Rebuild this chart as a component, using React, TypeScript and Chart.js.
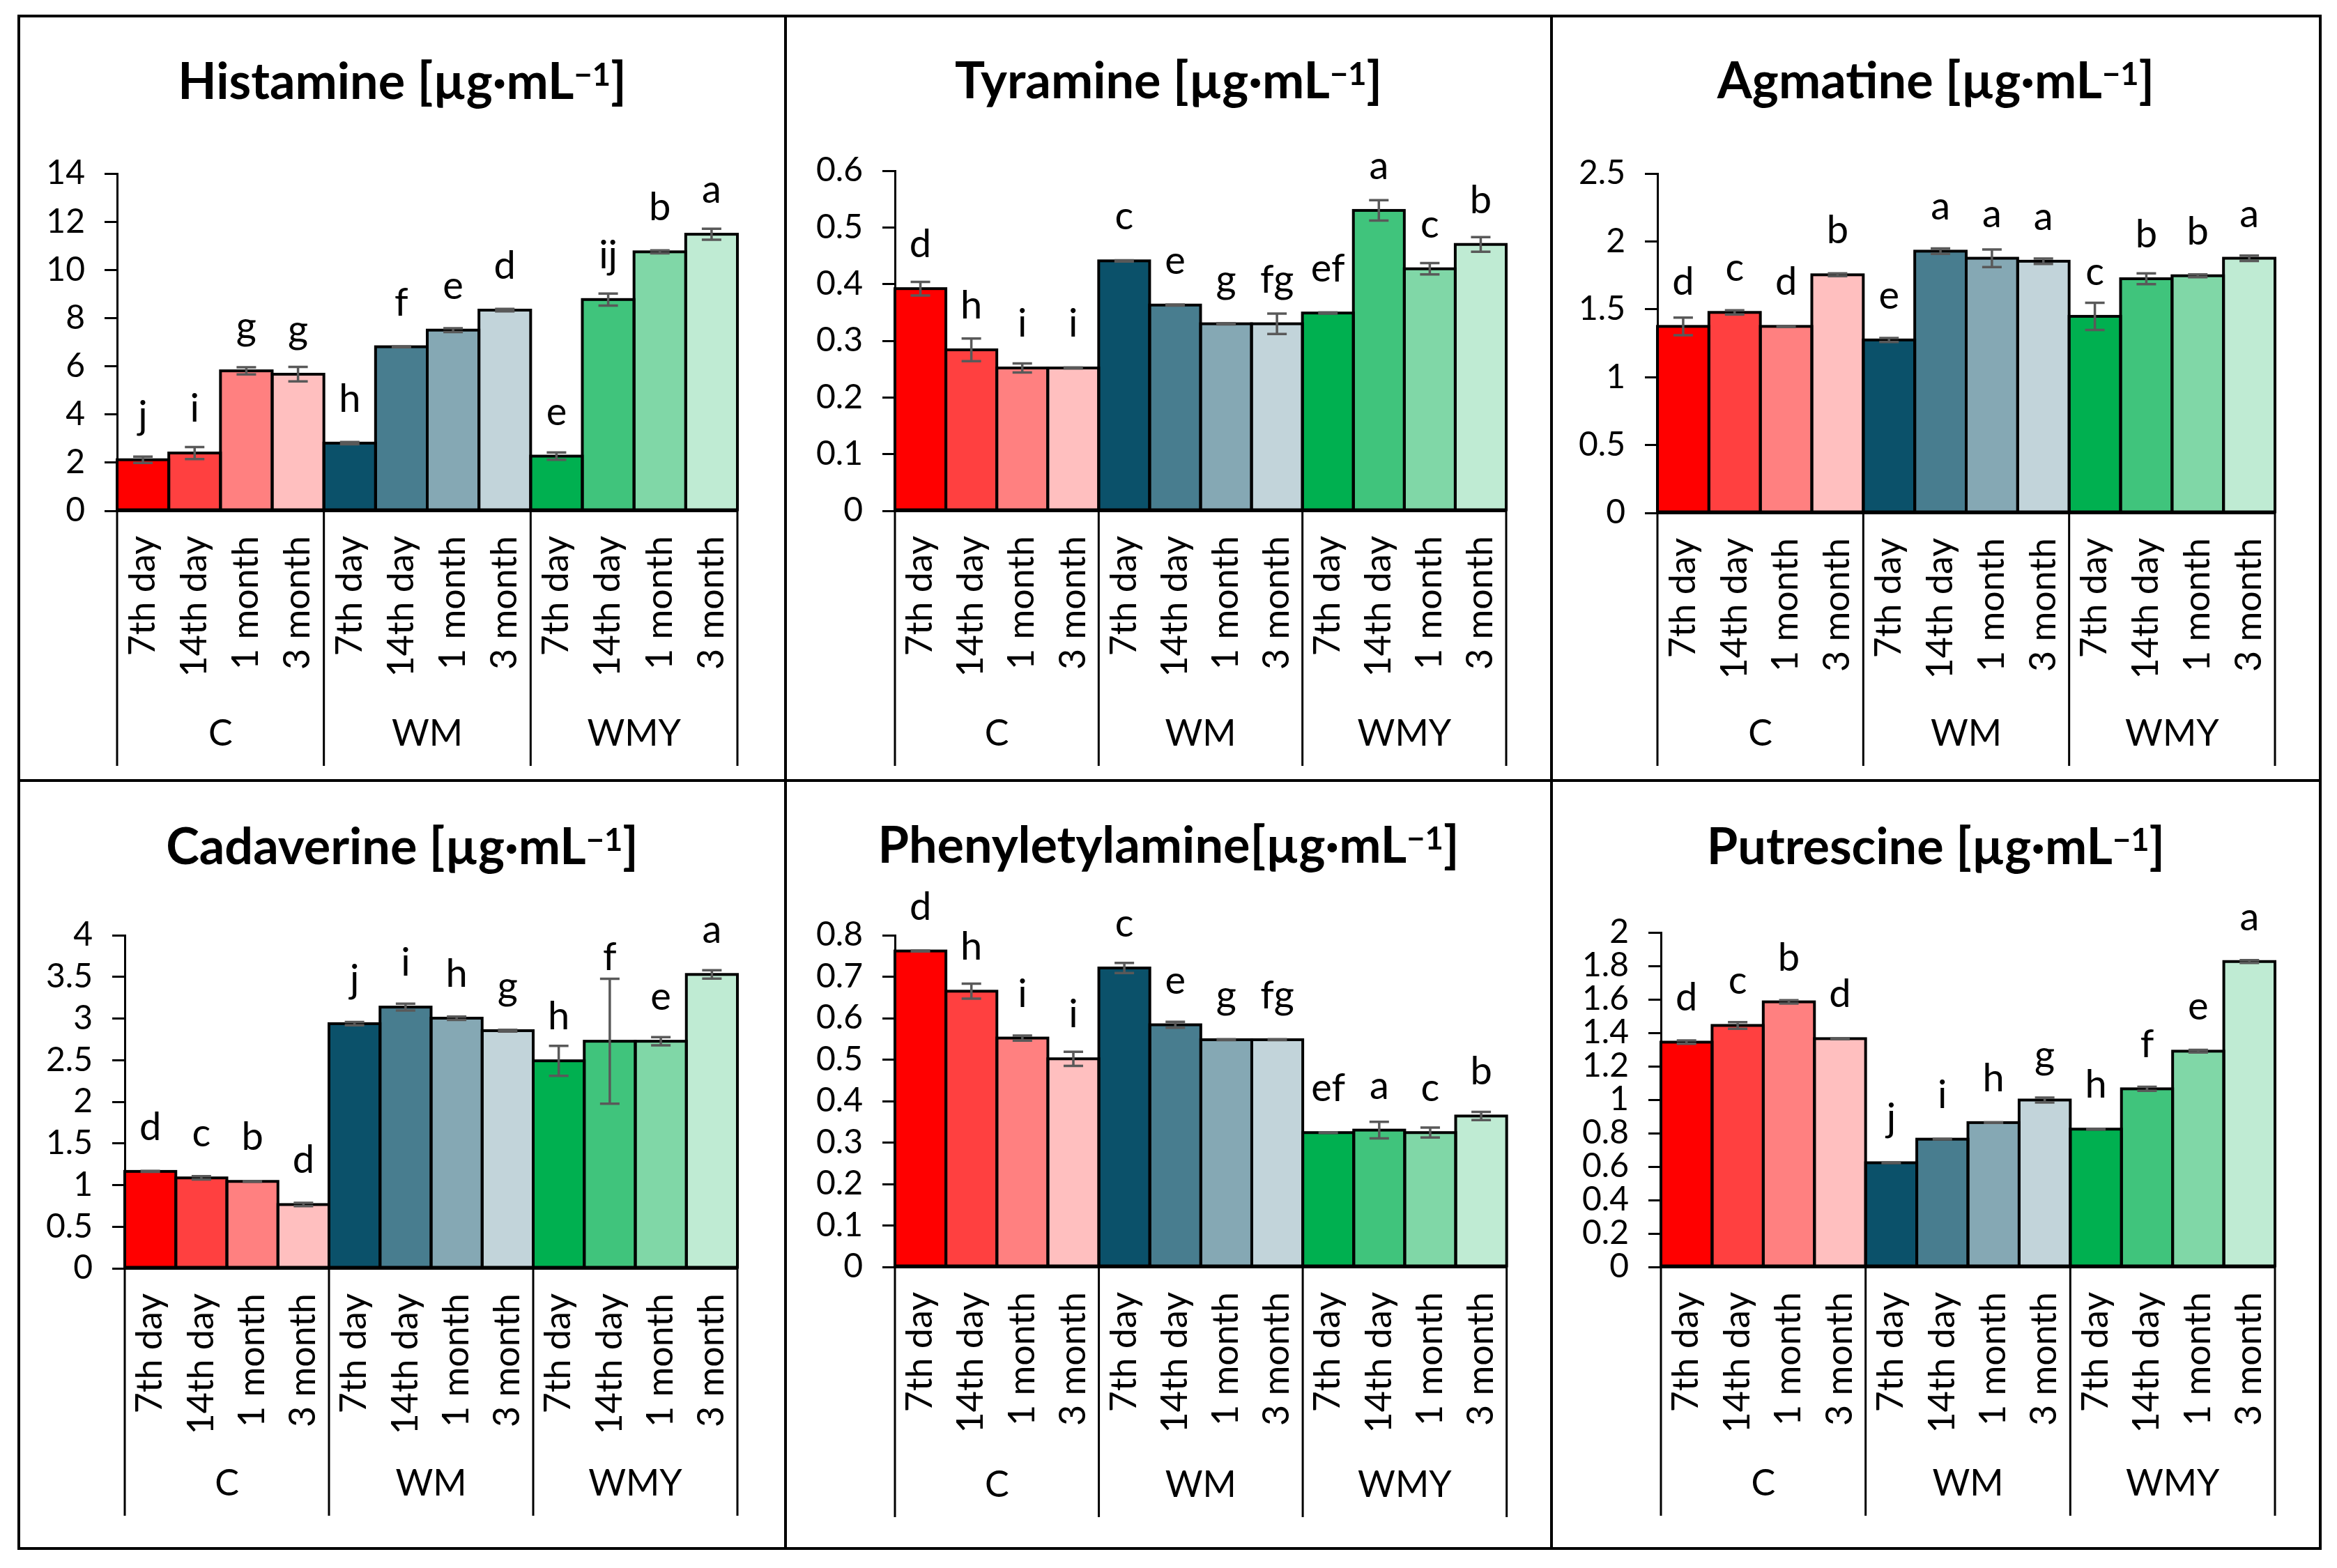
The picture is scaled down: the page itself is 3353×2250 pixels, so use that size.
import React, { useEffect, useRef } from "react";
import { Chart, registerables } from "chart.js";

Chart.register(...registerables);

// ---------- DATA ----------
const categories = [
  "7th day", "14th day", "1 month", "3 month",
  "7th day", "14th day", "1 month", "3 month",
  "7th day", "14th day", "1 month", "3 month",
];
const groups = ["C", "WM", "WMY"];

const barColors = [
  "#FF0000", "#FF4040", "#FF8080", "#FFBFBF",
  "#0B516A", "#487D8F", "#85A8B4", "#C2D4DA",
  "#00B050", "#40C47C", "#80D7A7", "#BFEBD3",
];

const histamineValues = [2.12, 2.40, 5.81, 5.67, 2.81, 6.81, 7.50, 8.33, 2.27, 8.77, 10.75, 11.48];
const histamineErrors = [0.13, 0.25, 0.15, 0.30, 0.05, 0.02, 0.08, 0.05, 0.15, 0.25, 0.06, 0.23];
const histamineLetters = ["j", "i", "g", "g", "h", "f", "e", "d", "e", "ij", "b", "a"];
const histamineAxis = [0, 14, 2];

const tyramineValues = [0.392, 0.284, 0.252, 0.252, 0.441, 0.363, 0.330, 0.330, 0.349, 0.530, 0.427, 0.470];
const tyramineErrors = [0.012, 0.020, 0.008, 0.001, 0.001, 0.001, 0.001, 0.018, 0.001, 0.018, 0.010, 0.013];
const tyramineLetters = ["d", "h", "i", "i", "c", "e", "g", "fg", "ef", "a", "c", "b"];
const tyramineAxis = [0, 0.6, 0.1];

const agmatineValues = [1.374, 1.477, 1.374, 1.754, 1.274, 1.928, 1.876, 1.854, 1.448, 1.725, 1.747, 1.876];
const agmatineErrors = [0.065, 0.015, 0.003, 0.010, 0.015, 0.020, 0.065, 0.020, 0.100, 0.040, 0.010, 0.020];
const agmatineLetters = ["d", "c", "d", "b", "e", "a", "a", "a", "c", "b", "b", "a"];
const agmatineAxis = [0, 2.5, 0.5];

const cadaverineValues = [1.164, 1.086, 1.044, 0.766, 2.938, 3.137, 3.004, 2.854, 2.492, 2.727, 2.727, 3.529];
const cadaverineErrors = [0.005, 0.020, 0.005, 0.020, 0.020, 0.040, 0.020, 0.010, 0.180, 0.750, 0.050, 0.050];
const cadaverineLetters = ["d", "c", "b", "d", "j", "i", "h", "g", "h", "f", "e", "a"];
const cadaverineAxis = [0, 4, 0.5];

const phenylValues = [0.762, 0.665, 0.552, 0.502, 0.721, 0.584, 0.548, 0.548, 0.324, 0.330, 0.324, 0.364];
const phenylErrors = [0.001, 0.018, 0.006, 0.017, 0.012, 0.007, 0.001, 0.001, 0.001, 0.020, 0.012, 0.010];
const phenylLetters = ["d", "h", "i", "i", "c", "e", "g", "fg", "ef", "a", "c", "b"];
const phenylAxis = [0, 0.8, 0.1];

const putrescineValues = [1.344, 1.444, 1.585, 1.365, 0.623, 0.764, 0.863, 0.998, 0.824, 1.065, 1.290, 1.826];
const putrescineErrors = [0.010, 0.020, 0.010, 0.002, 0.002, 0.002, 0.002, 0.015, 0.002, 0.012, 0.008, 0.008];
const putrescineLetters = ["d", "c", "b", "d", "j", "i", "h", "g", "h", "f", "e", "a"];
const putrescineAxis = [0, 2, 0.2];

// ---------- LAYOUT ----------
type PanelCfg = {
  title: string;
  gap: boolean;
  values: number[];
  errors: number[];
  letters: string[];
  axis: number[];
  box: number[]; // left, top, width, height
  yW: number;
  padR: number;
  padT: number;
  bottom: number;
  sep: number;
  titleTop: number;
};

const panels: PanelCfg[] = [
  { title: "Histamine", gap: true, values: histamineValues, errors: histamineErrors, letters: histamineLetters, axis: histamineAxis,
    box: [27, 23, 1100, 1097], yW: 141, padR: 69, padT: 226, bottom: 710, sep: 1076, titleTop: 55 },
  { title: "Tyramine", gap: true, values: tyramineValues, errors: tyramineErrors, letters: tyramineLetters, axis: tyramineAxis,
    box: [1127, 23, 1099, 1097], yW: 157, padR: 65, padT: 222, bottom: 710, sep: 1076, titleTop: 54 },
  { title: "Agmatine", gap: true, values: agmatineValues, errors: agmatineErrors, letters: agmatineLetters, axis: agmatineAxis,
    box: [2226, 23, 1103, 1097], yW: 152, padR: 65, padT: 226, bottom: 713, sep: 1076, titleTop: 54 },
  { title: "Cadaverine", gap: true, values: cadaverineValues, errors: cadaverineErrors, letters: cadaverineLetters, axis: cadaverineAxis,
    box: [27, 1120, 1100, 1102], yW: 152, padR: 69, padT: 222, bottom: 700, sep: 1055, titleTop: 56 },
  { title: "Phenyletylamine", gap: false, values: phenylValues, errors: phenylErrors, letters: phenylLetters, axis: phenylAxis,
    box: [1127, 1120, 1099, 1102], yW: 157, padR: 60, padT: 222, bottom: 698, sep: 1057, titleTop: 54 },
  { title: "Putrescine", gap: true, values: putrescineValues, errors: putrescineErrors, letters: putrescineLetters, axis: putrescineAxis,
    box: [2226, 1120, 1103, 1102], yW: 157, padR: 65, padT: 218, bottom: 698, sep: 1055, titleTop: 56 },
];

const FONT = "Lato";

const decorPlugin = {
  id: "decor",
  afterDatasetsDraw(chart: any) {
    const ctx = chart.ctx as CanvasRenderingContext2D;
    const meta = chart.getDatasetMeta(0);
    const ds = chart.data.datasets[0];
    const yS = chart.scales.y;
    const errs: number[] = ds.errors;
    const letters: string[] = ds.letters;
    ctx.save();
    // bar outlines (centered on edges)
    ctx.strokeStyle = "#000";
    ctx.lineWidth = 4;
    meta.data.forEach((bar: any) => {
      const p = bar.getProps(["x", "y", "base", "width"], true);
      ctx.strokeRect(p.x - p.width / 2, p.y, p.width, p.base - p.y);
    });
    // error bars
    ctx.strokeStyle = "#595959";
    ctx.lineWidth = 3.5;
    meta.data.forEach((bar: any, i: number) => {
      const v = ds.data[i];
      const e = errs[i];
      const yt = yS.getPixelForValue(v + e);
      const yb = yS.getPixelForValue(v - e);
      const cx = bar.x;
      ctx.beginPath();
      ctx.moveTo(cx, yt);
      ctx.lineTo(cx, yb);
      ctx.moveTo(cx - 14, yt);
      ctx.lineTo(cx + 14, yt);
      ctx.moveTo(cx - 14, yb);
      ctx.lineTo(cx + 14, yb);
      ctx.stroke();
    });
    // significance letters
    ctx.fillStyle = "#000";
    ctx.font = `56px ${FONT}`;
    ctx.textAlign = "center";
    ctx.textBaseline = "alphabetic";
    meta.data.forEach((bar: any, i: number) => {
      const et = yS.getPixelForValue(ds.data[i] + errs[i]);
      const baseY = Math.min(bar.y - 45, et - 12);
      ctx.fillText(letters[i], bar.x, baseY);
    });
    ctx.restore();
  },
  afterDraw(chart: any) {
    const ctx = chart.ctx as CanvasRenderingContext2D;
    const xS = chart.scales.x;
    const area = chart.chartArea;
    const per = categories.length / groups.length;
    const bounds = [area.left];
    for (let g = 1; g < groups.length; g++) {
      bounds.push((xS.getPixelForValue(g * per - 1) + xS.getPixelForValue(g * per)) / 2);
    }
    bounds.push(area.right);
    ctx.save();
    ctx.strokeStyle = "#000";
    ctx.lineWidth = 3;
    bounds.forEach((bx) => {
      ctx.beginPath();
      ctx.moveTo(bx, xS.top);
      ctx.lineTo(bx, xS.bottom);
      ctx.stroke();
    });
    ctx.fillStyle = "#000";
    ctx.font = `52px ${FONT}`;
    ctx.textAlign = "center";
    ctx.textBaseline = "alphabetic";
    groups.forEach((g, i) => {
      ctx.fillText(g, (bounds[i] + bounds[i + 1]) / 2, xS.bottom - 29);
    });
    ctx.restore();
  },
};

function Panel({ cfg }: { cfg: PanelCfg }) {
  const ref = useRef<HTMLCanvasElement>(null);
  const [left, top, w, h] = cfg.box;
  useEffect(() => {
    const chart = new Chart(ref.current as HTMLCanvasElement, {
      type: "bar",
      data: {
        labels: categories,
        datasets: [
          {
            data: cfg.values,
            backgroundColor: barColors,
            borderWidth: 0,
            barPercentage: 1,
            categoryPercentage: 1,
            errors: cfg.errors,
            letters: cfg.letters,
          } as any,
        ],
      },
      options: {
        animation: false,
        responsive: false,
        devicePixelRatio: 1,
        layout: { padding: { left: 0, right: cfg.padR, top: cfg.padT, bottom: h - cfg.sep } },
        plugins: { legend: { display: false }, tooltip: { enabled: false }, title: { display: false } },
        scales: {
          x: {
            grid: { display: false, drawTicks: false },
            border: { display: true, color: "#000", width: 3 },
            ticks: {
              autoSkip: false,
              maxRotation: 90,
              minRotation: 90,
              padding: 36,
              color: "#000",
              font: { family: FONT, size: 52 },
            },
            afterFit: (s: any) => {
              s.height = cfg.sep - cfg.bottom;
            },
          },
          y: {
            min: cfg.axis[0],
            max: cfg.axis[1],
            grid: { display: true, drawOnChartArea: false, drawTicks: true, tickLength: 18, color: "#000", lineWidth: 3 },
            border: { display: true, color: "#000", width: 3 },
            ticks: {
              stepSize: cfg.axis[2],
              autoSkip: false,
              padding: 28,
              color: "#000",
              font: { family: FONT, size: 48 },
              callback: (v: any) => String(parseFloat(Number(v).toFixed(2))),
            },
            afterFit: (s: any) => {
              s.width = cfg.yW;
            },
          },
        },
      },
      plugins: [decorPlugin],
    });
    return () => chart.destroy();
  }, []);
  return (
    <div style={{ position: "absolute", left, top, width: w, height: h }}>
      <canvas ref={ref} width={w} height={h} style={{ position: "absolute", left: 0, top: 0, width: w, height: h }} />
      <div
        style={{
          position: "absolute",
          left: 0,
          top: cfg.titleTop,
          width: w,
          textAlign: "center",
          fontFamily: FONT,
          fontWeight: 700,
          fontSize: 72,
          lineHeight: "72px",
          color: "#000",
          whiteSpace: "nowrap",
        }}
      >
        {cfg.title}
        {cfg.gap ? " " : ""}[µg·mL
        <span style={{ fontSize: "0.63em", position: "relative", top: "-0.42em" }}>−1</span>]
      </div>
    </div>
  );
}

const LINE = 4;
const frameV = [27, 1127, 2226, 3329];
const frameH = [23, 1120, 2222];

export default function App() {
  return (
    <div style={{ position: "absolute", left: 0, top: 0, width: 3353, height: 2250, background: "#fff", overflow: "hidden" }}>
      {panels.map((p, i) => (
        <Panel key={i} cfg={p} />
      ))}
      {frameV.map((x, i) => (
        <div key={"v" + i} style={{ position: "absolute", left: x - LINE / 2, top: frameH[0] - LINE / 2, width: LINE, height: frameH[2] - frameH[0] + LINE, background: "#000" }} />
      ))}
      {frameH.map((y, i) => (
        <div key={"h" + i} style={{ position: "absolute", left: frameV[0] - LINE / 2, top: y - LINE / 2, width: frameV[3] - frameV[0] + LINE, height: LINE, background: "#000" }} />
      ))}
    </div>
  );
}
